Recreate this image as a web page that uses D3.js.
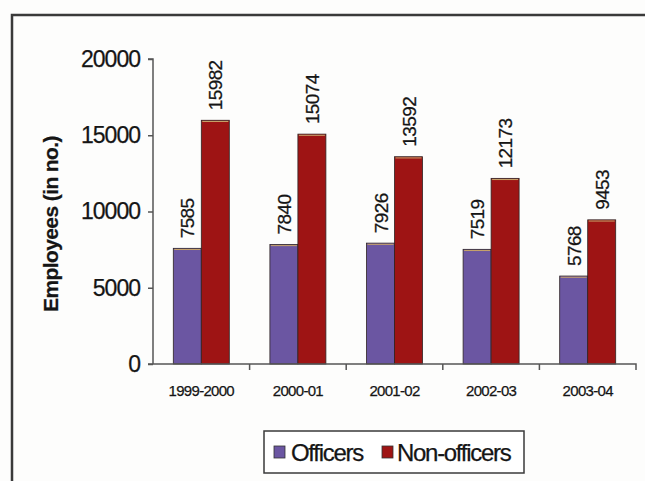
<!DOCTYPE html>
<html>
<head>
<meta charset="utf-8">
<script src="https://cdn.jsdelivr.net/npm/d3@7"></script>
<style>
  html, body { margin: 0; padding: 0; background: #fdfdfc; }
  svg { display: block; }
  text { font-family: "Liberation Sans", Arial, sans-serif; fill: #151515; stroke: #151515; stroke-width: 0.25px; }
</style>
</head>
<body>
<svg id="chart" width="645" height="481"></svg>
<script>
// Employees by year: officers vs non-officers
const years = ["1999-2000", "2000-01", "2001-02", "2002-03", "2003-04"];
const yearLabels = ["1999-2000", "2000-01", "2001-02", "2002-03", "2003-04"];
const officers = [7585, 7840, 7926, 7519, 5768];
const nonOfficers = [15982, 15074, 13592, 12173, 9453];
const seriesNames = ["Officers", "Non-officers"];
const yTicks = [0, 5000, 10000, 15000, 20000];

const colors = { "Officers": "#6b56a2", "Non-officers": "#9e1414" };

const svg = d3.select("#chart");

// outer frame (runs off the right and bottom edges)
svg.append("rect")
  .attr("x", 12).attr("y", 15).attr("width", 700).attr("height", 600)
  .attr("fill", "none").attr("stroke", "#3a3a3a").attr("stroke-width", 2.5);

const x0 = d3.scaleBand().domain(years).range([153, 636]).paddingInner(0).paddingOuter(0);
const x1 = d3.scaleBand().domain(seriesNames).range([0, 56]);
const groupOffset = (x0.bandwidth() - 56) / 2;
const y = d3.scaleLinear().domain([0, 20000]).range([364, 59]);

const rows = years.map((yr, i) => ({ year: yr, label: yearLabels[i], values: [
  { key: "Officers", value: officers[i] },
  { key: "Non-officers", value: nonOfficers[i] }
]}));

// bars
const groups = svg.append("g").selectAll("g").data(rows).join("g")
  .attr("transform", d => `translate(${x0(d.year) + groupOffset},0)`);

groups.selectAll("rect").data(d => d.values).join("rect")
  .attr("x", d => x1(d.key))
  .attr("y", d => y(d.value))
  .attr("width", x1.bandwidth())
  .attr("height", d => y(0) - y(d.value))
  .attr("fill", d => colors[d.key])
  .attr("stroke", "#2e2424")
  .attr("stroke-width", 0.8);

// thin light edge on bar tops
groups.selectAll("line.top").data(d => d.values).join("line")
  .attr("class", "top")
  .attr("x1", d => x1(d.key) + 1)
  .attr("x2", d => x1(d.key) + x1.bandwidth() - 1)
  .attr("y1", d => y(d.value) + 1.2)
  .attr("y2", d => y(d.value) + 1.2)
  .attr("stroke", "#c9a46a").attr("stroke-width", 1);

// value labels, rotated
groups.selectAll("text.val").data(d => d.values).join("text")
  .attr("class", "val")
  .attr("transform", d => `translate(${x1(d.key) + x1.bandwidth() / 2 + 7},${y(d.value) - 10}) rotate(-90)`)
  .attr("text-anchor", "start")
  .style("font-size", "19px")
  .style("letter-spacing", "-0.6px")
  .text(d => d.value);

// y axis
const yAxis = d3.axisLeft(y).tickValues(yTicks).tickSize(5).tickPadding(8).tickFormat(d3.format("d"));
const gy = svg.append("g").attr("transform", "translate(153,0)").call(yAxis);
gy.select(".domain").attr("stroke", "#555").attr("stroke-width", 1.5).attr("d", "M-5,59H0V364");
gy.selectAll(".tick line").attr("stroke", "#555").attr("stroke-width", 1.5);
gy.selectAll(".tick text").style("font-size", "23px").style("letter-spacing", "-1px").attr("fill", "#151515");

// x axis
const xAxis = d3.axisBottom(x0).tickSize(0).tickPadding(21).tickFormat((d, i) => yearLabels[i]);
const gx = svg.append("g").attr("transform", "translate(0,364)").call(xAxis);
gx.select(".domain").attr("stroke", "#555").attr("stroke-width", 1.5).attr("d", "M148,0H636V6");
gx.selectAll(".tick text").style("font-size", "15px").style("letter-spacing", "-0.7px").attr("fill", "#151515");
// boundary ticks between categories
svg.append("g").selectAll("line").data(years.slice(1)).join("line")
  .attr("x1", d => x0(d)).attr("x2", d => x0(d))
  .attr("y1", 364).attr("y2", 370)
  .attr("stroke", "#555").attr("stroke-width", 1.5);

// y axis title
svg.append("text")
  .attr("transform", "translate(58,224) rotate(-90)")
  .attr("text-anchor", "middle")
  .style("font-size", "21px").style("font-weight", "bold").style("letter-spacing", "-0.6px")
  .text("Employees (in no.)");

// legend
const lg = svg.append("g");
lg.append("rect").attr("x", 264).attr("y", 431).attr("width", 260).attr("height", 42)
  .attr("fill", "#fff").attr("stroke", "#3a3a3a").attr("stroke-width", 1.5);
const items = [
  { key: "Officers", sx: 274, tx: 291 },
  { key: "Non-officers", sx: 382, tx: 397 }
];
lg.selectAll("rect.sw").data(items).join("rect")
  .attr("class", "sw")
  .attr("x", d => d.sx).attr("y", 446).attr("width", 11).attr("height", 12)
  .attr("fill", d => colors[d.key]).attr("stroke", "#333").attr("stroke-width", 0.8);
lg.selectAll("text").data(items).join("text")
  .attr("x", d => d.tx).attr("y", 461)
  .style("font-size", "24px").style("letter-spacing", "-1.3px")
  .text(d => d.key);
</script>
</body>
</html>
